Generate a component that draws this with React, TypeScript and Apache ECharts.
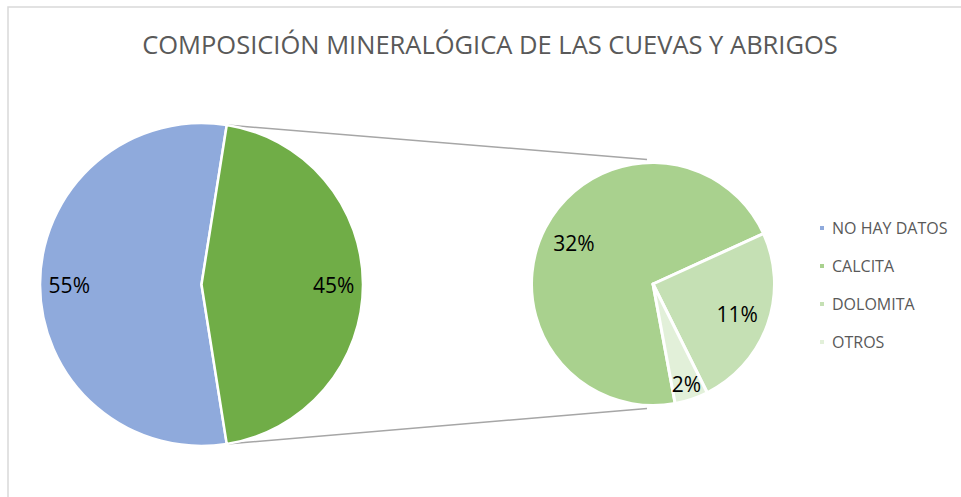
import React, { useEffect, useRef } from "react";
import * as echarts from "echarts";

const categories = ["NO HAY DATOS", "CALCITA", "DOLOMITA", "OTROS"];
const values = [55, 32, 11, 2];
const legendColors = ["#8faadc", "#a9d18e", "#c5e0b4", "#e2f0d9"];
const aggregateColor = "#70ad47";
const aggregateName = "Otro";
const titleText = "COMPOSICIÓN MINERALÓGICA DE LAS CUEVAS Y ABRIGOS";

export default function App() {
  const ref = useRef<HTMLDivElement>(null);
  useEffect(() => {
    if (!ref.current) return;
    const chart = echarts.init(ref.current, null, { renderer: "svg" });
    const font = "'Open Sans', sans-serif";

    // geometry
    const L = { cx: 201.5, cy: 284.5, r: 161.5 };
    const R = { cx: 653, cy: 284, r: 121.5 };
    const secondary = values.slice(1);
    const aggregate = secondary.reduce((a, b) => a + b, 0);
    const total = values[0] + aggregate;
    const aggAngle = (aggregate / total) * 360;
    const leftStart = 360 - aggAngle / 2;
    const rightStart = 280.5;

    const rad = (d: number) => (d * Math.PI) / 180;
    const p1 = [L.cx + L.r * Math.cos(rad(aggAngle / 2)), L.cy - L.r * Math.sin(rad(aggAngle / 2))];
    const p2 = [L.cx + L.r * Math.cos(rad(aggAngle / 2)), L.cy + L.r * Math.sin(rad(aggAngle / 2))];
    const q1 = [R.cx - 6, R.cy - R.r - 3];
    const q2 = [R.cx - 6, R.cy + R.r + 3];

    const leftData = [
      { name: categories[0], value: values[0], itemStyle: { color: legendColors[0] } },
      { name: aggregateName, value: aggregate, itemStyle: { color: aggregateColor } },
    ];
    const rightData = secondary.map((v, i) => ({
      name: categories[i + 1],
      value: v,
      itemStyle: { color: legendColors[i + 1] },
    }));

    const labelStyle = {
      show: true,
      position: "inside",
      formatter: "{c}%",
      color: "#000",
      fontFamily: font,
      fontSize: 21,
    };
    const ghost = { color: "rgba(0,0,0,0)", borderWidth: 0 };

    chart.setOption({
      animation: false,
      backgroundColor: "#fff",
      title: {
        text: titleText,
        left: 490,
        top: 31,
        textAlign: "center",
        padding: 0,
        textStyle: { fontFamily: font, fontSize: 25.5, fontWeight: "normal", color: "#595959" },
      },
      legend: {
        orient: "vertical",
        left: 818,
        top: 220,
        padding: 0,
        data: categories,
        icon: "rect",
        itemWidth: 6,
        itemHeight: 6,
        itemGap: 22,
        selectedMode: false,
        textStyle: { fontFamily: font, fontSize: 16, lineHeight: 16, color: "#595959", padding: [0, 0, 0, 2] },
      },
      graphic: [
        {
          type: "rect",
          shape: { x: 8, y: 7, width: 1000, height: 600 },
          style: { fill: "none", stroke: "#d9d9d9", lineWidth: 1.5 },
          silent: true,
          z: -1,
        },
        {
          type: "line",
          shape: { x1: p1[0], y1: p1[1], x2: q1[0], y2: q1[1] },
          style: { stroke: "#a6a6a6", lineWidth: 1.5 },
          silent: true,
        },
        {
          type: "line",
          shape: { x1: p2[0], y1: p2[1], x2: q2[0], y2: q2[1] },
          style: { stroke: "#a6a6a6", lineWidth: 1.5 },
          silent: true,
        },
      ],
      series: [
        {
          type: "pie",
          center: [L.cx, L.cy],
          radius: [0, L.r],
          startAngle: leftStart,
          clockwise: true,
          label: { show: false },
          labelLine: { show: false },
          itemStyle: { borderColor: "#fff", borderWidth: 2.5 },
          emphasis: { disabled: true },
          data: leftData,
        },
        {
          type: "pie",
          center: [R.cx, R.cy],
          radius: [0, R.r],
          startAngle: rightStart,
          clockwise: true,
          label: { show: false },
          labelLine: { show: false },
          itemStyle: { borderColor: "#fff", borderWidth: 3 },
          emphasis: { disabled: true },
          data: rightData,
        },
        {
          type: "pie",
          silent: true,
          center: [L.cx, L.cy],
          radius: [0.6 * L.r, L.r],
          startAngle: leftStart,
          itemStyle: ghost,
          label: labelStyle,
          labelLine: { show: false },
          data: leftData.map((d) => ({ name: d.name, value: d.value })),
        },
        {
          type: "pie",
          silent: true,
          center: [R.cx, R.cy],
          radius: [0.42 * R.r, R.r],
          startAngle: rightStart,
          itemStyle: ghost,
          label: labelStyle,
          labelLine: { show: false },
          data: rightData.map((d, i) => ({
            name: d.name,
            value: d.value,
            label: { show: i < 2 },
          })),
        },
        {
          type: "pie",
          silent: true,
          center: [R.cx, R.cy],
          radius: [0.68 * R.r, R.r],
          startAngle: rightStart,
          itemStyle: ghost,
          label: labelStyle,
          labelLine: { show: false },
          data: rightData.map((d, i) => ({
            name: d.name,
            value: d.value,
            label: { show: i === 2 },
          })),
        },
      ],
    });
    return () => chart.dispose();
  }, []);
  return (
    <div
      ref={ref}
      style={{ position: "absolute", left: 0, top: 0, width: 961, height: 497 }}
    />
  );
}
